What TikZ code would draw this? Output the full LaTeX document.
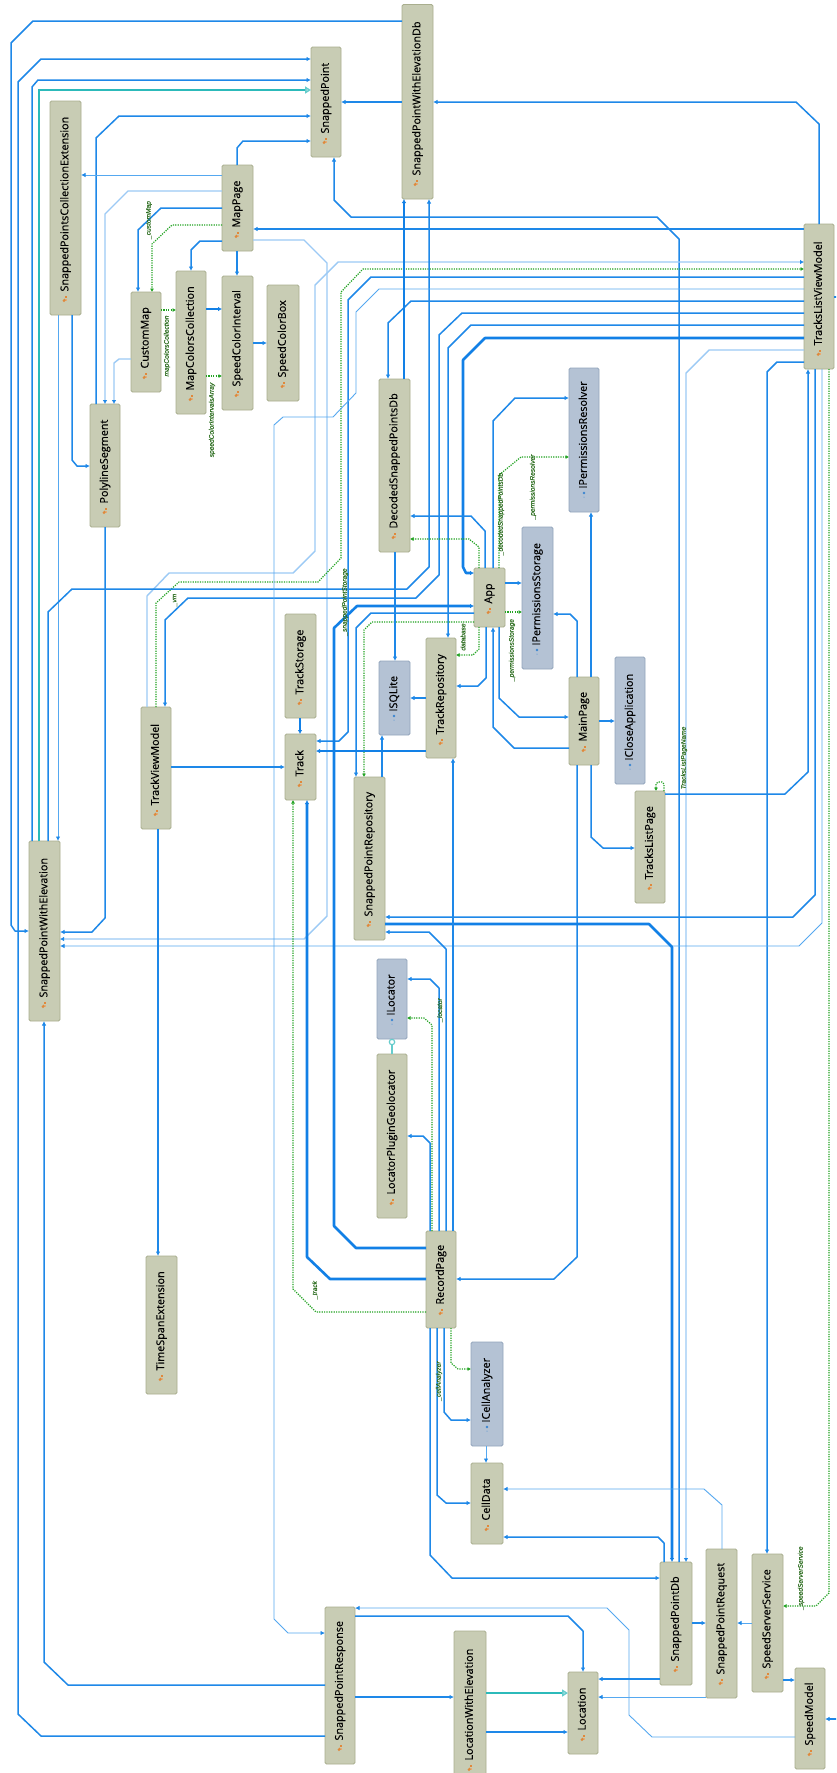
\documentclass[tikz,border=0pt]{standalone}
\usepackage{fontspec}
\usepackage{graphicx}
\usetikzlibrary{arrows.meta}
\setmainfont{Open Sans}
\newfontfamily\boxfont[FakeBold=0.4]{Open Sans}
\newfontfamily\labfont[FakeBold=0.2]{Liberation Sans}
\definecolor{clsfill}{HTML}{C8CCB4}
\definecolor{clsline}{HTML}{A9AE8E}
\definecolor{ifcfill}{HTML}{B4C2D4}
\definecolor{ifcline}{HTML}{93A5BC}
\definecolor{bmid}{HTML}{1E88E8}
\definecolor{bthick}{HTML}{1280E6}
\definecolor{bthin}{HTML}{55A8F0}
\definecolor{blight}{HTML}{9CCAF5}
\definecolor{grn}{HTML}{22A322}
\definecolor{tealc}{HTML}{2CBABA}
\definecolor{lollic}{HTML}{66CCCC}
\definecolor{labc}{HTML}{2F6F22}
\definecolor{iconc}{HTML}{E0883A}
\definecolor{dotc}{HTML}{3C86D0}
\tikzset{
  clsbox/.style={draw=clsline,fill=clsfill,line width=0.9pt,rounded corners=1.5pt,inner sep=0pt,outer sep=0pt},
  ifcbox/.style={draw=ifcline,fill=ifcfill,line width=0.9pt,rounded corners=1.5pt,inner sep=0pt,outer sep=0pt},
  dep/.style={draw=bmid,line width=1.5pt,line join=round,-{Latex[length=4.5pt,width=4.5pt]}},
  depthick/.style={draw=bthick,line width=2.6pt,line join=round,-{Latex[length=4pt,width=4.5pt]}},
  depthin/.style={draw=bthin,line width=0.9pt,line join=round,-{Latex[length=4.5pt,width=4.5pt,bmid]}},
  deplight/.style={draw=blight,line width=1.4pt,line join=round,-{Latex[length=4pt,width=4.5pt,bmid]}},
  grdep/.style={draw=grn,line width=1.2pt,dash pattern=on 1.2pt off 1.2pt,line join=round,-{Latex[length=3.5pt,width=4pt]}},
  inherit/.style={draw=tealc,line width=1.5pt,-{Triangle[open,length=6pt,width=7pt,fill=white,lollic]}},
  lab/.style={text=labc,font=\labfont\fontsize{6.6}{7}\selectfont\itshape,rotate=90,inner sep=0pt}
}
\newcommand{\bx}[7]{%
  \pgfmathsetmacro{\bw}{#5-#3}\pgfmathsetmacro{\bh}{#6-#4}%
  \pgfmathsetmacro{\bcx}{(#3+#5)/2}\pgfmathsetmacro{\bcy}{(#4+#6)/2}%
  \node[#1,minimum width=\bw pt,minimum height=\bh pt] (#2) at (\bcx,\bcy)
    {\rotatebox{90}{\makebox[\bh pt][l]{\hspace{23.5pt}\boxfont\fontsize{10.8}{12}\selectfont\vphantom{Apg}#7}}};%
}
\newcommand{\clsicon}[2]{%
  \fill[iconc] (#1-2.5,#2+1.5) -- ++(2,-2) -- ++(1.5,1.5) -- ++(-2,2) -- cycle;
  \fill[iconc] (#1+0.2,#2-3) -- ++(1.8,0) -- ++(0,1.8) -- ++(-1.8,0) -- cycle;
  \fill[iconc!70!white] (#1+0.6,#2+0.3) -- ++(1.6,0) -- ++(0,1.6) -- ++(-1.6,0) -- cycle;
}
\newcommand{\ifcicon}[2]{%
  \fill[dotc] (#1,#2) circle (1.4pt);
  \fill[dotc] (#1,#2+4) circle (0.5pt);
}
\begin{document}
\begin{tikzpicture}[x=1pt,y=-1pt]
\useasboundingbox (0,0) rectangle (836,1773);
\clip (0,0) rectangle (836,1773);
\fill[white] (0,0) rectangle (836,1773);
% class boxes
\bx{clsbox}{sp}{311}{47}{341}{157}{SnappedPoint}
\bx{clsbox}{spwedb}{402}{4.5}{433}{199}{SnappedPointWithElevationDb}
\bx{clsbox}{spce}{50}{101}{81}{315}{SnappedPointsCollectionExtension}
\bx{clsbox}{mp}{222}{165}{253}{251}{MapPage}
\bx{clsbox}{mcc}{176}{271}{206}{414}{MapColorsCollection}
\bx{clsbox}{sci}{222}{276}{253}{410}{SpeedColorInterval}
\bx{clsbox}{scb}{267}{285}{299}{401}{SpeedColorBox}
\bx{clsbox}{cm}{131}{292}{161}{392}{CustomMap}
\bx{clsbox}{pls}{90}{404}{120}{527}{PolylineSegment}
\bx{clsbox}{dsp}{379}{379}{410}{552}{DecodedSnappedPointsDb}
\bx{ifcbox}{ipr}{569}{368}{599}{512}{IPermissionsResolver}
\bx{ifcbox}{ips}{522}{527}{553}{669}{IPermissionsStorage}
\bx{clsbox}{app}{474}{568}{505}{627}{App}
\bx{clsbox}{trepo}{426}{638}{456}{758}{TrackRepository}
\bx{clsbox}{main}{569}{677}{599}{765}{MainPage}
\bx{ifcbox}{icl}{615}{657}{645}{784}{ICloseApplication}
\bx{clsbox}{tlp}{635}{791}{665}{903}{TracksListPage}
\bx{clsbox}{tlvm}{804}{224}{834}{369}{TracksListViewModel}
\bx{clsbox}{tstore}{285}{614}{316}{718}{TrackStorage}
\bx{clsbox}{track}{285}{734}{316}{800}{Track}
\bx{ifcbox}{isql}{379}{661}{410}{735}{ISQLite}
\bx{clsbox}{sprepo}{354}{777}{385}{940}{SnappedPointRepository}
\bx{clsbox}{tvm}{141}{707}{171}{829}{TrackViewModel}
\bx{clsbox}{spwe}{29}{841}{60}{1021}{SnappedPointWithElevation}
\bx{ifcbox}{iloc}{377}{959}{407}{1039}{ILocator}
\bx{clsbox}{locg}{377}{1054}{407}{1218}{LocatorPluginGeolocator}
\bx{clsbox}{tse}{146}{1256}{177}{1394}{TimeSpanExtension}
\bx{clsbox}{rp}{426}{1231}{456}{1328}{RecordPage}
\bx{ifcbox}{ica}{471}{1342}{503}{1446}{ICellAnalyzer}
\bx{clsbox}{cell}{471}{1463}{503}{1544}{CellData}
\bx{clsbox}{spdb}{660}{1562}{692}{1685}{SnappedPointDb}
\bx{clsbox}{spreq}{706}{1549}{737}{1698}{SnappedPointRequest}
\bx{clsbox}{sss}{752}{1554}{783}{1692}{SpeedServerService}
\bx{clsbox}{spdm}{795}{1668}{825}{1769}{SpeedModel}
\bx{clsbox}{spresp}{325}{1607}{355}{1764}{SnappedPointResponse}
\bx{clsbox}{lwe}{454}{1631}{486}{1784}{LocationWithElevation}
\bx{clsbox}{loc}{568}{1672}{598}{1754}{Location}
% icons
\clsicon{325}{141}\clsicon{416}{183}\clsicon{65}{299}\clsicon{237}{235}\clsicon{191}{398}
\clsicon{237}{394}\clsicon{283}{385}\clsicon{145}{376}\clsicon{105}{511}\clsicon{394}{536}
\clsicon{489}{611}\clsicon{441}{742}\clsicon{584}{749}\clsicon{650}{887}\clsicon{819}{353}
\clsicon{300}{702}\clsicon{300}{784}\clsicon{369}{924}\clsicon{156}{813}\clsicon{44}{1005}
\clsicon{392}{1202}\clsicon{161}{1378}\clsicon{441}{1312}\clsicon{487}{1528}\clsicon{676}{1669}
\clsicon{721}{1682}\clsicon{767}{1676}\clsicon{810}{1753}\clsicon{340}{1748}\clsicon{470}{1768}\clsicon{583}{1738}
\ifcicon{584}{493}\ifcicon{537}{650}\ifcicon{630}{765}\ifcicon{394}{716}\ifcicon{392}{1020}\ifcicon{487}{1427}
% snapped point area
\draw[dep] (spwedb.west |- 0,21) -- (33,21) -- (11,43) -- (11,925) -- (15,931) -- (spwe.west |- 0,931);
\draw[dep] (spresp.west |- 0,1736) -- (41,1736) -- (18,1714) -- (18,82) -- (41,59) -- (sp.west |- 0,59);
\draw[dep] (32,0 |- spwe.north) -- (32,87) -- (38,80) -- (sp.west |- 0,80);
\draw[inherit] (39,0 |- spwe.north) -- (39,90) -- (sp.west |- 0,90);
\draw[dep] (96,0 |- pls.north) -- (96,138) -- (119,116) -- (sp.west |- 0,116);
\draw[dep] (237,0 |- mp.north) -- (237,148) -- (243,141) -- (sp.west |- 0,141);
\draw[dep] (spwedb.west |- 0,102) -- (sp.east |- 0,102);
\draw[dep] (819,0 |- tlvm.north) -- (819,124) -- (796,102) -- (spwedb.east |- 0,102);
\draw[dep] (679,0 |- spdb.north) -- (679,239) -- (657,217) -- (351,217) -- (334,200) -- (334,0 |- sp.south);
\draw[dep] (tlvm.west |- 0,229) -- (mp.east |- 0,229);
% map page
\draw[depthin] (mp.west |- 0,175) -- (spce.east |- 0,175);
\draw[deplight] (mp.west |- 0,191) -- (128,191) -- (105,214) -- (105,0 |- pls.north);
\draw[dep] (mp.west |- 0,208) -- (161,208) -- (138,230) -- (138,0 |- cm.north);
\draw[grdep] (mp.west |- 0,225) -- (172,225) -- (152,244) -- (152,0 |- cm.north);
\draw[dep] (mp.west |- 0,241) -- (200,241) -- (191,250) -- (191,0 |- mcc.north);
\draw[dep] (237,0 |- mp.south) -- (237,0 |- sci.north);
\draw[deplight] (mp.east |- 0,240) -- (304,240) -- (327,263) -- (327,916) -- (304,939) -- (spwe.east |- 0,939);
\draw[depthick] (mcc.east |- 0,309) -- (sci.west |- 0,309);
\draw[grdep] (cm.east |- 0,310) -- (mcc.west |- 0,310);
\draw[grdep] (mcc.east |- 0,376) -- (sci.west |- 0,376);
\draw[dep] (sci.east |- 0,343) -- (scb.west |- 0,343);
\draw[deplight] (cm.west |- 0,359) -- (119,359) -- (114,363) -- (114,0 |- pls.north);
\draw[depthin] (58,0 |- spce.south) -- (58,0 |- spwe.north);
\draw[dep] (72,0 |- spce.south) -- (72,460) -- (77,466) -- (pls.west |- 0,466);
\draw[dep] (105,0 |- pls.south) -- (105,918) -- (92,932) -- (spwe.east |- 0,932);
% track list view model fan
\draw[deplight] (147,0 |- tvm.north) -- (147,596) -- (169,573) -- (293,573) -- (315,551) -- (315,285) -- (338,262) -- (tlvm.west |- 0,262);
\draw[grdep] (156,0 |- tvm.north) -- (156,603) -- (179,582) -- (318,582) -- (341,558) -- (341,292) -- (363,269) -- (tlvm.west |- 0,269);
\draw[dep] (tlvm.west |- 0,313) -- (462,313) -- (439,335) -- (439,575) -- (416,598) -- (188,598) -- (165,620) -- (165,0 |- tvm.north);
\draw[dep] (48,0 |- spwe.north) -- (48,612) -- (72,589) -- (407,589) -- (429,567) -- (429,0 |- spwedb.south);
\draw[dep] (tlvm.west |- 0,325) -- (471,325) -- (448,348) -- (448,0 |- trepo.north);
\draw[depthick] (tlvm.west |- 0,338) -- (485,338) -- (463,360) -- (463,567) -- (466,573) -- (app.west |- 0,573);
\draw[dep] (tlvm.west |- 0,277) -- (371,277) -- (348,300) -- (348,732) -- (339,741) -- (track.east |- 0,741);
\draw[depthin] (tlvm.west |- 0,289) -- (379,289) -- (356,312) -- (356,393) -- (333,417) -- (283,417) -- (274,425) -- (274,1619) -- (288,1633) -- (spresp.west |- 0,1633);
\draw[dep] (tlvm.west |- 0,301) -- (411,301) -- (388,323) -- (388,0 |- dsp.north);
\draw[depthick] (404,0 |- dsp.north) -- (404,0 |- spwedb.south);
\draw[deplight] (tlvm.west |- 0,350) -- (709,350) -- (686,373) -- (686,0 |- spdb.north);
\draw[dep] (tlvm.west |- 0,362) -- (777,362) -- (767,372) -- (767,0 |- sss.north);
\draw[grdep] (829,0 |- tlvm.south) -- (829,1593) -- (816,1606) -- (sss.east |- 0,1606);
\draw[dep] (815,0 |- tlvm.south) -- (815,895) -- (793,917) -- (sprepo.east |- 0,917);
\draw[depthin] (822,0 |- tlvm.south) -- (822,923) -- (799,946) -- (spwe.east |- 0,946);
\draw[dep] (tlp.east |- 0,794) -- (785,794) -- (808,772) -- (808,0 |- tlvm.south);
\draw[grdep] (664,0 |- tlp.north) -- (664,784) -- (662,782) -- (658,782) -- (656,784) -- (656,0 |- tlp.north);
\draw[dep] (tlvm.east |- 0,297) -- (840,297) -- (840,1719) -- (spdm.east |- 0,1719);
% app area
\draw[dep] (493,0 |- app.north) -- (493,421) -- (515,398) -- (ipr.west |- 0,398);
\draw[dep] (485,0 |- app.north) -- (485,531) -- (471,516) -- (dsp.east |- 0,516);
\draw[grdep] (479,0 |- app.north) -- (479,547) -- (469,539) -- (dsp.east |- 0,539);
\draw[grdep] (499,0 |- app.north) -- (499,475) -- (521,457) -- (ipr.west |- 0,457);
\draw[dep] (app.east |- 0,583) -- (ips.west |- 0,583);
\draw[grdep] (app.east |- 0,612) -- (ips.west |- 0,612);
\draw[dep] (577,0 |- main.north) -- (577,621) -- (570,614) -- (ips.east |- 0,614);
\draw[dep] (591,0 |- main.north) -- (591,0 |- ipr.south);
\draw[dep] (main.east |- 0,721) -- (icl.west |- 0,721);
\draw[dep] (499,0 |- app.south) -- (499,698) -- (519,717) -- (main.west |- 0,717);
\draw[dep] (main.west |- 0,748) -- (514,748) -- (493,727) -- (493,0 |- app.south);
\draw[dep] (486,0 |- app.south) -- (486,678) -- (478,686) -- (trepo.east |- 0,686);
\draw[grdep] (479,0 |- app.south) -- (479,649) -- (473,655) -- (trepo.east |- 0,655);
\draw[depthick] (rp.west |- 0,1248) -- (356,1248) -- (334,1226) -- (334,628) -- (357,606) -- (app.west |- 0,606);
\draw[dep] (app.west |- 0,613) -- (371,613) -- (356,628) -- (356,0 |- sprepo.north);
\draw[grdep] (app.west |- 0,622) -- (372,622) -- (364,630) -- (364,0 |- sprepo.north);
\draw[dep] (382,0 |- sprepo.north) -- (382,0 |- isql.south);
\draw[dep] (395,0 |- dsp.south) -- (395,0 |- isql.north);
\draw[dep] (trepo.west |- 0,698) -- (isql.east |- 0,698);
\draw[depthick] (300,0 |- tstore.south) -- (300,0 |- track.north);
\draw[dep] (tvm.east |- 0,767) -- (track.west |- 0,767);
\draw[depthick] (trepo.west |- 0,751) -- (track.east |- 0,751);
\draw[depthick] (rp.west |- 0,1279) -- (330,1279) -- (307,1257) -- (307,0 |- track.south);
\draw[grdep] (rp.west |- 0,1312) -- (316,1312) -- (293,1289) -- (293,0 |- track.south);
\draw[dep] (158,0 |- tvm.south) -- (158,0 |- tse.north);
% response and bottom
\draw[dep] (spresp.west |- 0,1685) -- (68,1685) -- (44,1662) -- (44,0 |- spwe.south);
\draw[dep] (spresp.east |- 0,1616) -- (568,1616) -- (583,1631) -- (583,0 |- loc.north);
\draw[depthin] (spdm.west |- 0,1737) -- (652,1737) -- (629,1715) -- (629,1630) -- (607,1608) -- (spresp.east |- 0,1608);
\draw[dep] (spresp.east |- 0,1697) -- (lwe.west |- 0,1697);
\draw[inherit] (lwe.east |- 0,1693) -- (loc.west |- 0,1693);
\draw[dep] (lwe.east |- 0,1732) -- (loc.west |- 0,1732);
\draw[dep] (spdb.west |- 0,1679) -- (loc.east |- 0,1679);
\draw[depthin] (spreq.west |- 0,1697) -- (loc.east |- 0,1697);
\draw[dep] (spdb.east |- 0,1623) -- (spreq.west |- 0,1623);
\draw[depthin] (sss.west |- 0,1623) -- (spreq.east |- 0,1623);
\draw[dep] (sss.east |- 0,1680) -- (spdm.west |- 0,1680);
% main page lower
\draw[dep] (591,0 |- main.south) -- (591,837) -- (603,848) -- (tlp.west |- 0,848);
\draw[dep] (577,0 |- main.south) -- (577,1257) -- (554,1279) -- (rp.east |- 0,1279);
% snapped point repo
\draw[depthick] (sprepo.east |- 0,924) -- (649,924) -- (672,947) -- (672,0 |- spdb.north);
\draw[dep] (446,0 |- rp.north) -- (446,949) -- (429,932) -- (sprepo.east |- 0,932);
\draw[dep] (453,0 |- rp.north) -- (453,0 |- trepo.south);
\draw[dep] (439,0 |- rp.north) -- (439,988) -- (430,979) -- (iloc.east |- 0,979);
\draw[grdep] (432,0 |- rp.north) -- (432,1025) -- (424,1018) -- (iloc.east |- 0,1018);
\draw[dep] (430,0 |- rp.north) -- (430,1143) -- (423,1136) -- (locg.east |- 0,1136);
\draw[draw=lollic,line width=1.2pt] (392,0 |- locg.north) -- (392,1045);
\draw[draw=lollic,line width=1.2pt,fill=white] (392,1042) circle (2.7pt);
% record page lower
\draw[dep] (430,0 |- rp.south) -- (430,1555) -- (452,1578) -- (spdb.west |- 0,1578);
\draw[dep] (437,0 |- rp.south) -- (437,1495) -- (446,1503) -- (cell.west |- 0,1503);
\draw[dep] (444,0 |- rp.south) -- (444,1412) -- (451,1420) -- (ica.west |- 0,1420);
\draw[grdep] (451,0 |- rp.south) -- (451,1363) -- (458,1369) -- (ica.west |- 0,1369);
\draw[depthin] (486,0 |- ica.south) -- (486,0 |- cell.north);
\draw[dep] (664,0 |- spdb.north) -- (664,1543) -- (658,1537) -- (cell.east |- 0,1537);
\draw[depthin] (722,0 |- spreq.north) -- (722,1505) -- (704,1489) -- (cell.east |- 0,1489);
% labels
\node[lab] (l1) at (149,220) {\_customMap};
\node[lab] (l2) at (167,346) {mapColorsCollection};
\node[lab] (l3) at (212,420) {speedColorIntervalsArray};
\node[lab] (l4) at (501,514) {\_decodedSnappedPointsDb};
\node[lab] (l5) at (533,487) {\_permissionsResolver};
\node[lab] (l6) at (512,650) {\_permissionsStorage};
\node[lab] (l7) at (463,637) {database};
\node[lab] (l8) at (345,602) {\_snappedPointStorage};
\node[lab] (l9) at (175,600) {\_vm};
\node[lab] (l10) at (315,1290) {\_track};
\node[lab] (l11) at (440,1010) {\_locator};
\node[lab] (l12) at (439,1381) {\_cellAnalyzer};
\node[lab] (l13) at (801,1578) {\_speedServerService};
\node[lab] (l14) at (684,758) {TracksListPageName};
\end{tikzpicture}
\end{document}
